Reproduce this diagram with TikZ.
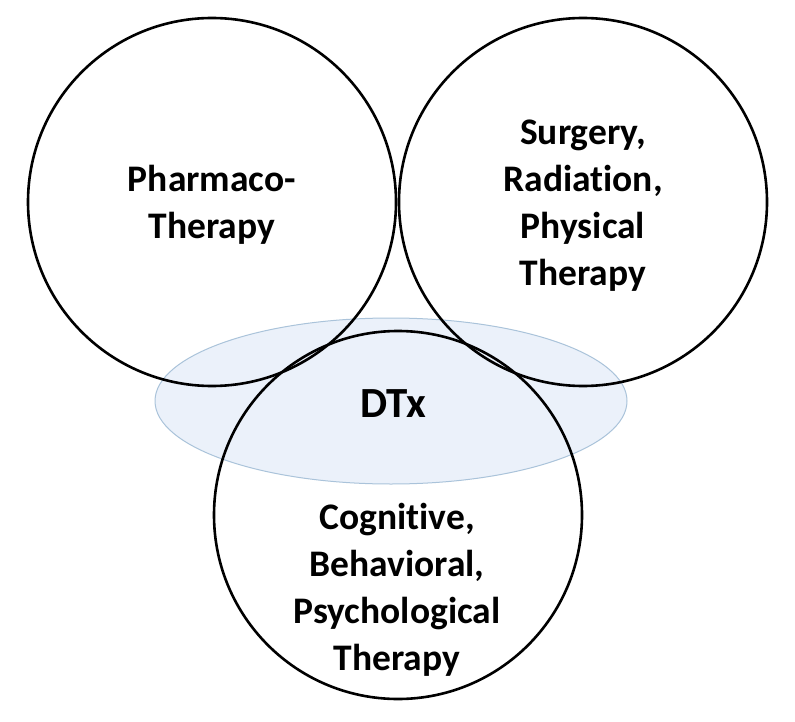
\documentclass[tikz,border=0pt]{standalone}
\usepackage{fontspec}
\setmainfont{Carlito}[Ligatures=NoCommon]
\pgfdeclarelayer{background}
\pgfsetlayers{background,main}
\definecolor{dtxfill}{RGB}{235,241,250}
\definecolor{dtxedge}{RGB}{170,195,218}
\tikzset{
	therapy/.style={circle, draw=black, line width=2.6pt, minimum size=368pt, inner sep=0pt},
	lbl/.style={font=\bfseries\fontsize{37.5}{47}\selectfont, align=center},
}

\begin{document}
\begin{tikzpicture}[x=1pt,y=-1pt]
			\useasboundingbox (0,0) rectangle (795,722);
			% the three therapy circles
			\node[therapy] (pharma) at (212,202) {};
			\node[therapy] (surgery) at (583,202) {};
			\node[therapy] (cognitive) at (398,515) {};
			% DTx ellipse underneath
			\begin{pgfonlayer}{background}
				\fill[dtxfill, draw=dtxedge, line width=1pt] (391,401) ellipse (236 and 83);
			\end{pgfonlayer}
			\node[lbl] (pharmatext) at (212,205) {Pharmaco-\\Therapy};
			\node[lbl] (surgerytext) at (583,206) {Surgery,\\Radiation,\\Physical\\Therapy};
			\node[lbl] (cognitivetext) at (397,590) {Cognitive,\\Behavioral,\\Psychological\\Therapy};
			\node[font=\bfseries\fontsize{43}{50}\selectfont] (dtx) at (393,404) {DTx};
		\end{tikzpicture}
\end{document}
